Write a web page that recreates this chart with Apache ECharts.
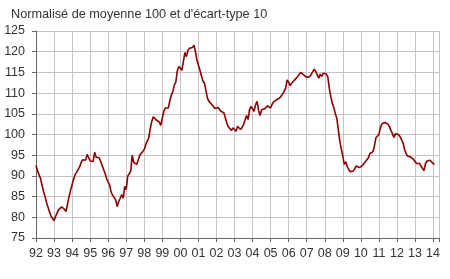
<!DOCTYPE html>
<html>
<head>
<meta charset="utf-8">
<script src="https://cdn.jsdelivr.net/npm/echarts@6/dist/echarts.min.js"></script>
<style>html,body{margin:0;padding:0;background:#fff}#c{width:450px;height:279px}</style>
</head>
<body>
<div id="c"></div>
<script>
// Monthly values, January to December of each year
const startYear = 1992;
const v1992 = [92.5, 91.3, 90.3, 89.4, 87.8, 86.3, 85.0, 83.6, 82.4, 81.3, 80.3, 79.7];
const v1993 = [79.2, 80.2, 81.0, 81.8, 82.2, 82.5, 82.6, 81.9, 81.4, 83.3, 85.0, 86.5];
const v1994 = [87.9, 89.2, 90.3, 90.9, 91.3, 92.2, 93.2, 93.9, 94.1, 93.8, 95.2, 94.8];
const v1995 = [93.6, 93.2, 93.5, 95.7, 94.5, 94.2, 94.4, 93.5, 92.5, 91.5, 90.5, 89.3];
const v1996 = [88.5, 87.8, 86.0, 85.3, 85.0, 84.2, 82.6, 83.8, 84.6, 85.5, 84.6, 87.5];
const v1997 = [86.7, 90.0, 90.5, 91.2, 95.0, 93.2, 92.9, 92.8, 93.2, 95.0, 95.3, 95.9];
const v1998 = [96.4, 97.6, 98.4, 99.2, 101.5, 103.2, 104.3, 104.7, 103.5, 103.4, 103.0, 102.2];
const v1999 = [104.0, 105.6, 106.4, 106.8, 106.4, 108.2, 109.5, 110.4, 112.0, 112.7, 115.5, 116.4];
const v2000 = [116.0, 115.5, 115.2, 119.8, 118.8, 120.3, 120.8, 120.8, 121.0, 121.6, 120.0, 118.0];
const v2001 = [117.6, 115.5, 114.2, 112.9, 112.4, 110.6, 108.8, 108.0, 107.6, 107.2, 106.8, 106.3];
const v2002 = [106.1, 106.5, 106.8, 105.6, 105.6, 105.2, 103.9, 102.6, 101.8, 101.4, 101.0, 101.6];
const v2003 = [101.6, 100.8, 102.0, 101.6, 101.2, 101.7, 102.4, 102.8, 104.6, 103.6, 106.0, 106.8];
const v2004 = [107.2, 105.6, 107.2, 108.0, 105.8, 104.6, 106.0, 105.8, 106.2, 106.6, 106.9, 107.0];
const v2005 = [106.4, 107.3, 107.9, 108.2, 108.4, 108.6, 108.8, 109.2, 109.8, 110.4, 111.2, 113.2];
const v2006 = [112.6, 111.8, 112.4, 112.8, 113.2, 113.6, 114.0, 114.4, 115.0, 114.8, 114.4, 114.0];
const v2007 = [113.8, 113.6, 114.0, 114.5, 114.8, 115.8, 115.2, 115.0, 113.6, 114.6, 114.0, 114.8];
const v2008 = [114.5, 114.6, 114.0, 111.2, 109.2, 107.5, 106.6, 105.0, 104.0, 101.2, 98.4, 96.5];
const v2009 = [94.8, 92.8, 93.4, 92.2, 91.5, 91.0, 90.6, 91.2, 91.8, 92.4, 92.3, 92.0];
const v2010 = [92.4, 92.5, 92.8, 93.4, 93.6, 94.4, 95.4, 95.6, 95.8, 97.2, 99.2, 99.6];
const v2011 = [100.0, 101.6, 102.6, 102.8, 102.9, 102.9, 102.5, 101.9, 101.0, 100.2, 99.3, 100.2];
const v2012 = [100.3, 100.0, 99.5, 98.8, 98.0, 96.5, 95.5, 94.8, 94.4, 94.6, 94.4, 94.0];
const v2013 = [93.6, 93.0, 93.2, 93.0, 92.6, 91.8, 91.3, 93.0, 93.6, 94.0, 93.8, 93.4];
const v2014 = [93.0, 92.8];

const yearly = [v1992, v1993, v1994, v1995, v1996, v1997, v1998, v1999, v2000, v2001, v2002,
  v2003, v2004, v2005, v2006, v2007, v2008, v2009, v2010, v2011, v2012, v2013, v2014];

const yTicks = { min: 75, max: 125, step: 5 };
const xRange = { min: 1992, max: 2014.33 };

const seriesData = [];
yearly.forEach((arr, yi) => {
  arr.forEach((v, mi) => seriesData.push([startYear + yi + mi / 12, v]));
});

const chart = echarts.init(document.getElementById('c'), null, { renderer: 'canvas' });
const font = 'Liberation Sans, Arial, sans-serif';
chart.setOption({
  animation: false,
  backgroundColor: '#fff',
  title: {
    text: "Normalisé de moyenne 100 et d'écart-type 10",
    left: 6, top: 3,
    textStyle: { fontFamily: font, fontSize: 12.7, fontWeight: 'normal', color: '#333' }
  },
  grid: { left: 36, right: 11, top: 31, bottom: 41 },
  xAxis: {
    type: 'value',
    min: xRange.min, max: xRange.max, interval: 1,
    axisLine: { show: true, lineStyle: { color: '#666', width: 1 } },
    axisTick: { show: true, length: 4, lineStyle: { color: '#666' } },
    splitLine: { show: true, lineStyle: { color: '#c4c4c4', width: 1 } },
    axisLabel: {
      color: '#333', fontFamily: font, fontSize: 12.5, margin: 9,
      formatter: v => Math.abs(v - Math.round(v)) < 1e-6 ? String(Math.round(v) % 100).padStart(2, '0') : ''
    }
  },
  yAxis: {
    type: 'value',
    min: yTicks.min, max: yTicks.max, interval: yTicks.step,
    axisLine: { show: true, lineStyle: { color: '#666', width: 1 } },
    axisTick: { show: true, length: 4, lineStyle: { color: '#666' } },
    splitLine: { show: true, lineStyle: { color: '#c4c4c4', width: 1 } },
    axisLabel: { color: '#333', fontFamily: font, fontSize: 12.5, margin: 11 }
  },
  series: [{
    type: 'line',
    data: seriesData,
    showSymbol: false,
    symbol: 'none',
    lineStyle: { color: '#8b0000', width: 1.6 },
    z: 5
  }]
});
</script>
</body>
</html>
